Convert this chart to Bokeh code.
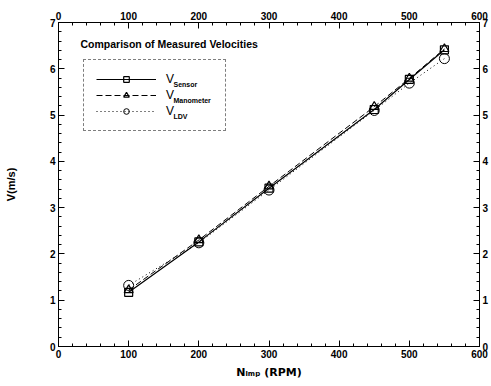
from bokeh.plotting import figure
from bokeh.models import (Range1d, LinearAxis, SingleIntervalTicker, Legend, LegendItem, Label)
from bokeh.embed import file_html
from bokeh.resources import INLINE

rpm = [100, 200, 300, 450, 500, 550]
v_sensor = [1.17, 2.26, 3.42, 5.12, 5.77, 6.41]
v_manometer = [1.22, 2.30, 3.46, 5.18, 5.79, 6.43]
v_ldv = [1.32, 2.24, 3.38, 5.10, 5.69, 6.22]
series_names = ["Sensor", "Manometer", "LDV"]
title_text = "Comparison of Measured Velocities"
x_title = "N\u1d62\u2098\u209a (RPM)"
y_title = "V(m/s)"

FONT = "Liberation Sans"

p = figure(frame_width=421, frame_height=324, output_backend="svg", toolbar_location=None,
           x_range=Range1d(0, 600), y_range=Range1d(0, 7),
           min_border_left=58, min_border_right=12, min_border_top=22, min_border_bottom=40,
           x_axis_location=None, y_axis_location=None)
p.background_fill_color = "white"
p.border_fill_color = "white"
p.outline_line_color = "black"
p.grid.visible = False

def style_axis(ax, interval):
    ax.ticker = SingleIntervalTicker(interval=interval, num_minor_ticks=5)
    ax.axis_line_color = "black"
    ax.major_tick_in = 6
    ax.major_tick_out = 0
    ax.minor_tick_in = 3
    ax.minor_tick_out = 0
    ax.major_tick_line_color = "black"
    ax.minor_tick_line_color = "black"
    ax.major_label_text_font = FONT
    ax.major_label_text_font_style = "bold"
    ax.major_label_text_font_size = "10px"
    ax.major_label_text_color = "black"
    ax.major_label_standoff = 3
    ax.axis_label_text_color = "black"

bottom = LinearAxis(axis_label=x_title)
style_axis(bottom, 100)
bottom.axis_label_text_font = "DejaVu Sans"
bottom.axis_label_text_font_style = "bold"
bottom.axis_label_text_font_size = "11px"
bottom.axis_label_standoff = 5
p.add_layout(bottom, "below")
top = LinearAxis()
style_axis(top, 100)
p.add_layout(top, "above")
left = LinearAxis(axis_label=y_title)
style_axis(left, 1)
left.axis_label_text_font = FONT
left.axis_label_text_font_style = "bold"
left.axis_label_text_font_size = "11px"
left.axis_label_standoff = 30
p.add_layout(left, "left")
right = LinearAxis()
style_axis(right, 1)
p.add_layout(right, "right")

l1 = p.line(rpm, v_sensor, line_color="black", line_width=1.2)
s1 = p.scatter(rpm, v_sensor, marker="square", size=8, fill_color="white", fill_alpha=0, line_color="black", line_width=1.2)
l2 = p.line(rpm, v_manometer, line_color="black", line_width=1, line_dash="6 3")
s2 = p.scatter(rpm, v_manometer, marker="triangle", size=9, fill_color="white", fill_alpha=0, line_color="black", line_width=1.2)
l3 = p.line(rpm, v_ldv, line_color="black", line_width=1, line_dash="1 3")
s3 = p.scatter(rpm, v_ldv, marker="circle", size=10, fill_color="white", fill_alpha=0, line_color="black", line_width=1)

legend = Legend(items=[LegendItem(label="V", renderers=[l1, s1]),
                       LegendItem(label="V", renderers=[l2, s2]),
                       LegendItem(label="V", renderers=[l3, s3])],
                location=(25, 215), padding=12, spacing=2, glyph_height=14, label_height=14,
                glyph_width=60, label_standoff=10, label_width=47,
                label_text_font=FONT, label_text_font_size="12px", label_text_color="black",
                border_line_color="black", border_line_dash="4 2", border_line_width=1,
                background_fill_alpha=0)
p.add_layout(legend, "center")

sub_y = [262, 246, 230]
for name, yy in zip(series_names, sub_y):
    p.add_layout(Label(x=115, y=yy, x_units="screen", y_units="screen", text=name,
                       text_font=FONT, text_font_style="bold", text_font_size="7px",
                       text_baseline="middle", text_color="black"))

p.add_layout(Label(x=22, y=303, x_units="screen", y_units="screen", text=title_text,
                   text_font=FONT, text_font_style="bold", text_font_size="10.5px",
                   text_baseline="middle", text_color="black"))

open("out.html", "w").write(file_html(p, INLINE))
